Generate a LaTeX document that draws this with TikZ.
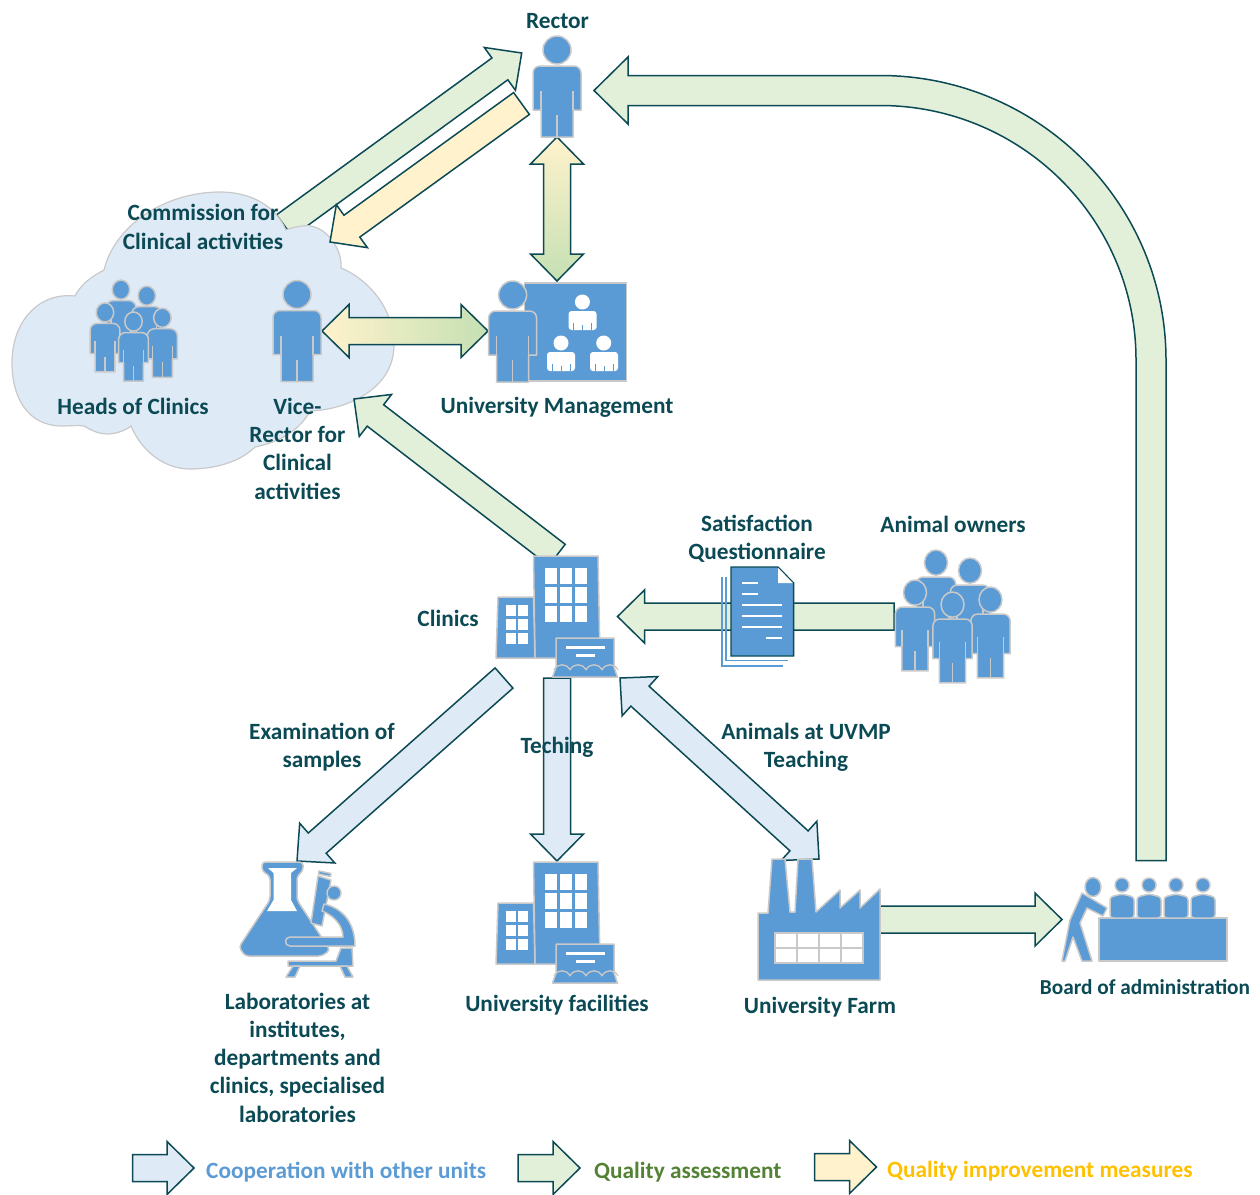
\documentclass[tikz,border=0pt]{standalone}
\usepackage{fontspec}
\setmainfont{Carlito}
\usetikzlibrary{calc}
\definecolor{ink}{HTML}{0B4A55}
\definecolor{iconblue}{HTML}{5B9BD5}
\definecolor{icongray}{HTML}{C9C9C9}
\definecolor{cloudfill}{HTML}{DEEAF6}
\definecolor{greenfill}{HTML}{E2EFD9}
\definecolor{bluefill}{HTML}{DEEAF6}
\definecolor{yellowfill}{HTML}{FFF2CC}
\definecolor{gradgreen}{HTML}{C5E0B3}
\definecolor{legblue}{HTML}{5B9BD5}
\definecolor{leggreen}{HTML}{548235}
\definecolor{legyellow}{HTML}{FFC000}
\tikzset{
  x=1pt,y=-1pt,
  barrow/.style={draw=ink,line width=1.5pt,line join=miter},
  greenarrow/.style={barrow,fill=greenfill},
  bluearrow/.style={barrow,fill=bluefill},
  yellowarrow/.style={barrow,fill=yellowfill},
  gradv/.style={barrow,top color=yellowfill,bottom color=gradgreen},
  gradh/.style={barrow,left color=yellowfill,right color=gradgreen},
  icon/.style={fill=iconblue,draw=icongray,line width=1.5pt,line join=round},
  iconline/.style={draw=icongray,line width=1.3pt},
  white shape/.style={fill=white,draw=none},
  lbl/.style={font=\fontsize{23.3}{28.3}\selectfont\bfseries,text=ink,align=center,inner sep=0pt},
  leglbl/.style={font=\fontsize{23.3}{28}\selectfont\bfseries,inner sep=0pt,anchor=west},
  personpic/.pic={\personshape},
  buildingpic/.pic={\buildingshape},
  grouppic/.pic={\groupshape}
}
\newcommand\personshape{%
  \path[icon] (0,14) circle[radius=14];
  \path[icon] (-24,74) [rounded corners=7pt] -- (-24,30) -- (24,30) [sharp corners] -- (24,74) -- (16,74) -- (16,101) -- (-16,101) -- (-16,74) -- cycle;
  \draw[iconline] (-16,55) -- (-16,74) (16,55) -- (16,74) (0,79) -- (0,101);
}
\newcommand\groupshape{%
  \begin{scope}[shift={(-16.5,-42)},xscale=.82,yscale=.9]\personshape\end{scope}
  \begin{scope}[shift={(17.5,-34)},xscale=.82,yscale=.9]\personshape\end{scope}
  \begin{scope}[shift={(-37.5,-12)},xscale=.82,yscale=.9]\personshape\end{scope}
  \begin{scope}[shift={(38,-5)},xscale=.82,yscale=.9]\personshape\end{scope}
  \begin{scope}[shift={(0,0)},xscale=.82,yscale=.9]\personshape\end{scope}
}
% building: origin at centre x=557,y=617 of the Clinics icon
\newcommand\buildingshape{%
  \path[icon] (-23.5,-61) -- (41,-61) -- (43,41) -- (-22,41) -- cycle;
  \path[icon] (-59,-20) -- (-23.5,-20) -- (-22,41) -- (-61,41) -- cycle;
  \foreach \cx in {-6,9,24}\foreach \cy in {-41.5,-22,-3}{\fill[white] (\cx-6.3,\cy-8) rectangle (\cx+6.3,\cy+8);}
  \foreach \cx in {-46,-34.5}\foreach \cy in {-6.5,7.5,21.5}{\fill[white] (\cx-5,\cy-5.5) rectangle (\cx+5,\cy+5.5);}
  \path[icon] (-1,21) -- (57,21) -- (57,50) -- (60.5,60) -- (-4.5,60) -- (-1,50) -- cycle;
  \fill[white] (9,29) rectangle (48,32);
  \fill[white] (19,37) rectangle (38,40);
  \foreach \ax in {-3,13,29,45}{\draw[iconline] (\ax,53) .. controls (\ax+3,46) and (\ax+13,46) .. (\ax+16,53);}
}
\newcommand\blockarrow[3][]{%
  \coordinate (hb) at ($(#3)!27pt!(#2)$);
  \draw[#1] ($(#2)!13.5pt!90:(#3)$) -- ($(hb)!13.5pt!90:(#3)$) -- ($(hb)!26.5pt!90:(#3)$) -- (#3)
     -- ($(hb)!26.5pt!-90:(#3)$) -- ($(hb)!13.5pt!-90:(#3)$) -- ($(#2)!13.5pt!-90:(#3)$) -- cycle;
}
\newcommand\doublearrow[3][]{%
  \coordinate (hb) at ($(#3)!27pt!(#2)$);
  \coordinate (ha) at ($(#2)!27pt!(#3)$);
  \draw[#1] (#2) -- ($(ha)!26.5pt!90:(#3)$) -- ($(ha)!13.5pt!90:(#3)$) -- ($(hb)!13.5pt!90:(#3)$) -- ($(hb)!26.5pt!90:(#3)$) -- (#3)
     -- ($(hb)!26.5pt!-90:(#3)$) -- ($(hb)!13.5pt!-90:(#3)$) -- ($(ha)!13.5pt!-90:(#3)$) -- ($(ha)!26.5pt!-90:(#3)$) -- cycle;
}
\begin{document}
\begin{tikzpicture}
\useasboundingbox (0,0) rectangle (1260,1194);
% named anchors
\coordinate (cmTail) at (284.5,225.7);
\coordinate (rectorIn) at (521.7,53);
\coordinate (rectorOut) at (521.5,103.5);
\coordinate (cmIn) at (330,242);
\coordinate (rectorBot) at (557,137);
\coordinate (mgmtTop) at (557,281);
\coordinate (viceR) at (322,331);
\coordinate (mgmtL) at (488,331);
\coordinate (clinUp) at (557,555);
\coordinate (viceIn) at (354,399);
\coordinate (ownersL) at (894,616.5);
\coordinate (clinR) at (617.5,616.5);
\coordinate (clinDL) at (504,678);
\coordinate (labTop) at (297,861);
\coordinate (clinD) at (557,678);
\coordinate (facTop) at (557,861);
\coordinate (clinDR) at (620,678);
\coordinate (farmTop) at (819,859);
\coordinate (farmR) at (880,919.5);
\coordinate (boardL) at (1062,919.5);
\coordinate (lgA1) at (132.6,1168);\coordinate (lgA2) at (194,1168);
\coordinate (lgB1) at (518,1168);\coordinate (lgB2) at (580,1168);
\coordinate (lgC1) at (814.5,1167);\coordinate (lgC2) at (876.5,1167);

% arrow behind the cloud
\blockarrow[greenarrow]{cmTail}{rectorIn}
% cloud
\path[fill=cloudfill,draw=icongray,line width=1.2pt]
  (104,270) .. controls (95,275) and (82,282) .. (75,296)
  .. controls (40,292) and (12,320) .. (12,363)
  .. controls (12,398) and (28,426) .. (62,426)
  .. controls (70,426) and (78,425) .. (84,426)
  .. controls (92,431) and (100,434) .. (107,434)
  .. controls (115,434) and (125,431) .. (131,426)
  .. controls (142,452) and (165,469) .. (190,469)
  .. controls (215,469) and (240,462) .. (255,447)
  .. controls (280,442) and (300,430) .. (310,411)
  .. controls (345,410) and (394,390) .. (394,345)
  .. controls (394,310) and (370,280) .. (341,268)
  .. controls (343,250) and (325,222) .. (302,226)
  .. controls (296,227) and (290,228) .. (286,230)
  .. controls (275,205) and (250,192) .. (220,192)
  .. controls (165,192) and (115,225) .. (104,270) -- cycle;

% arrows
\blockarrow[yellowarrow]{rectorOut}{cmIn}
\doublearrow[gradv]{rectorBot}{mgmtTop}
\doublearrow[gradh]{viceR}{mgmtL}
\blockarrow[greenarrow]{clinUp}{viceIn}
\blockarrow[greenarrow]{ownersL}{clinR}
\blockarrow[bluearrow]{clinDL}{labTop}
\blockarrow[bluearrow]{clinD}{facTop}
\doublearrow[bluearrow]{clinDR}{farmTop}
\blockarrow[greenarrow]{farmR}{boardL}
% big curved arrow Board -> Rector
\coordinate (boardTop) at (1151,860.5);
\coordinate (rectorR) at (594,90.5);
\draw[greenarrow] ($(boardTop)+(15,0)$) -- (1166,360)
  .. controls (1166,203) and (1038,75.5) .. (880,75.5)
  -- (628,75.5) -- (628,57) -- (rectorR) -- (628,124) -- (628,105.5) -- (880,105.5)
  .. controls (1021,105.5) and (1136,219) .. (1136,360)
  -- ($(boardTop)+(-15,0)$) -- cycle;

% people
\pic (rector) at (557,36) {personpic};
\pic (vice) at (297,280.5) {personpic};
% university management icon
\path[icon] (524.5,283) rectangle (626.5,381);
\pic (mgmt) at (512.6,281) {personpic};
\foreach \hx/\hy/\bx/\by in {582.4/302/568.6/311,561/343/547/352,603.7/343/590/352}{
  \fill[white] (\hx,\hy) circle[radius=7.5];
  \fill[white,rounded corners=3pt] (\bx,\by+19) -- (\bx,\by) -- (\bx+28,\by) -- (\bx+28,\by+19) -- cycle;
  \draw[iconblue,line width=.7pt] (\bx+5,\by+12) -- (\bx+5,\by+19) (\bx+23,\by+12) -- (\bx+23,\by+19) (\bx+14,\by+14) -- (\bx+14,\by+19);
}
\pic (heads) [scale=.76] at (133.5,312) {grouppic};
\pic (owners) at (952.5,592) {grouppic};

% buildings
\pic (clinics) at (557,617) {buildingpic};
\pic (facilities) at (557,923) {buildingpic};

% document
\draw[iconblue,line width=1.4pt] (726,577) -- (726,660.5) -- (788,660.5);
\draw[iconblue,line width=1.4pt] (722,577) -- (722,666) -- (783,666);
\path[fill=iconblue,draw=ink,line width=1.4pt] (731,567) -- (778,567) -- (793.6,583) -- (793.6,656) -- (731,656) -- cycle;
\path[fill=white] (778,567.8) -- (792.8,583) -- (778,583) -- cycle;
\draw[white,line width=1.4pt] (742,583) -- (757.5,583) (742,594) -- (757.5,594)
  (742,605) -- (782,605) (742,616) -- (782,616) (742,627) -- (782,627) (766,638) -- (782,638);

% flask and microscope
\path[icon,rounded corners=3.5pt] (262,862) -- (303,862) -- (303,871) -- (297,876) -- (297,900) -- (330,950) -- (322,956) -- (245,956) -- (239,947) -- (270,900) -- (270,876) -- (262,871) -- cycle;
\path[white shape] (268,868) -- (297,868) -- (291,873) -- (291,900) -- (297,911) -- (267,911) -- (273.5,900) -- (273.5,873) -- cycle;
\path[icon] (318,876) -- (331,880) -- (322,926) -- (311,923) -- cycle;
\path[icon] (319,871) -- (331,873.5) -- (330.5,876.5) -- (318.5,874) -- cycle;
\path[icon] (334,893) circle[radius=7];
\path[icon] (290,937) -- (343,937) .. controls (343,925) and (333,915) .. (322,911) -- (324,904) .. controls (342,908) and (355,922) .. (355,946) -- (290,946) .. controls (284,946) and (284,937) .. (290,937) -- cycle;
\path[icon] (352,948) -- (353,966) -- (288,966) -- (288,961) -- (336,961) -- (341,948) -- cycle;
\path[icon] (293,966) -- (300,966) -- (295,977) -- (286,977) -- cycle;
\path[icon] (340,966) -- (347,966) -- (353,977) -- (345,977) -- cycle;

% factory
\path[icon] (758,913) -- (768,913) -- (772,859) -- (785,859) -- (790,912) -- (795,912) -- (798,859) -- (812,859) -- (816,912) -- (840,890) -- (840,908) -- (860,890) -- (860,908) -- (880,889) -- (880,980) -- (758,980) -- cycle;
\path[fill=white,draw=icongray,line width=1.5pt] (775,933) rectangle (863,963);
\draw[icongray,line width=1.5pt] (797,933) -- (797,963) (819,933) -- (819,963) (841,933) -- (841,963) (775,948) -- (863,948);

% board
\path[icon] (1099,918) rectangle (1227,961);
\foreach \px in {1122,1149,1176,1203}{
  \path[icon] (\px,885) circle[radius=7];
  \path[icon,rounded corners=3pt] (\px-12,918) -- (\px-12,897) -- (\px,894) -- (\px+12,897) -- (\px+12,918) -- cycle;
}
\path[icon] (1093,887) ellipse[x radius=8,y radius=9.5];
\path[icon] (1082,893) -- (1107,908) -- (1103,916) -- (1087,908) -- (1080,923) -- (1092,961) -- (1082,961) -- (1073,937) -- (1065,961) -- (1062,961) -- (1070,920) -- cycle;

% legend
\blockarrow[bluearrow]{lgA1}{lgA2}
\blockarrow[greenarrow]{lgB1}{lgB2}
\blockarrow[yellowarrow]{lgC1}{lgC2}
\node[leglbl,text=legblue] (lgTa) at (206,1172) {Cooperation with other units};
\node[leglbl,text=leggreen] (lgTb) at (594,1172) {Quality assessment};
\node[leglbl,text=legyellow] (lgTc) at (887,1171) {Quality improvement measures};

% labels
\node[lbl] (tRector) at (557.5,21) {Rector};
\node[lbl] (tComm) at (203,227) {Commission for\\Clinical activities};
\node[lbl] (tHeads) at (133,406) {Heads of Clinics};
\node[lbl] (tVice) at (297.5,448.5) {Vice-\\Rector for\\Clinical\\activities};
\node[lbl] (tMgmt) at (557,407) {University Management};
\node[lbl] (tSat) at (757,538.5) {Satisfaction\\Questionnaire};
\node[lbl] (tOwners) at (953,524) {Animal owners};
\node[lbl] (tClin) at (448,618) {Clinics};
\node[lbl] (tExam) at (322,747) {Examination of\\samples};
\node[lbl] (tTeach) at (557,747) {Teching};
\node[lbl] (tAnim) at (806,747) {Animals at UVMP\\Teaching};
\node[lbl] (tLab) at (297.5,1057.5) {Laboratories at\\institutes,\\departments and\\clinics, specialised\\laboratories};
\node[lbl] (tFac) at (557,1005) {University facilities};
\node[lbl] (tFarm) at (820,1007) {University Farm};
\node[lbl,font=\fontsize{21.3}{26}\selectfont\bfseries] (tBoard) at (1145,987) {Board of administration};
\end{tikzpicture}
\end{document}
